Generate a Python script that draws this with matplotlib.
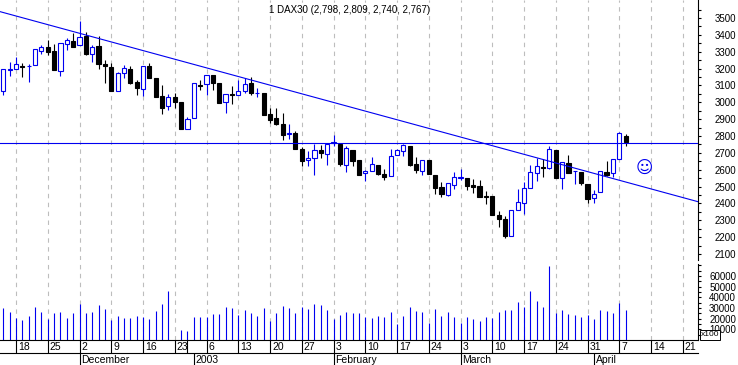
import matplotlib
matplotlib.use("Agg")
import matplotlib.pyplot as plt

plt.rcParams['font.family'] = ['Liberation Sans', 'DejaVu Sans']

# daily candles
opens = [3069,3193,3200,3215,3213,3219,3306,3328,3304,3188,3348,3364,3338,3393,3285,3334,3227,3209,3069,3172,
         3198,3120,3077,3215,3142,3037,2976,3029,3002,2843,2905,3101,3107,3162,3114,3004,3047,3045,3069,3112,
         3053,3055,2930,2904,2869,2809,2815,2722,2655,2671,2716,2696,2756,2752,2629,2716,2657,2578,2594,2627,
         2572,2564,2689,2712,2738,2631,2594,2657,2566,2497,2451,2511,2548,2550,2509,2503,2441,2444,2329,2305,
         2209,2359,2400,2493,2582,2614,2612,2715,2549,2638,2590,2584,2515,2430,2466,2584,2578,2662,2798]
highs = [3196,3237,3267,3231,3225,3314,3338,3370,3344,3350,3383,3413,3482,3415,3338,3393,3249,3231,3178,3219,
         3215,3132,3217,3231,3142,3103,3047,3053,3002,2911,3112,3132,3160,3162,3114,3047,3097,3132,3146,3148,
         3082,3055,2969,2964,2934,2869,2829,2734,2710,2752,2746,2752,2803,2752,2738,2716,2657,2598,2673,2627,
         2604,2720,2720,2752,2738,2673,2655,2657,2566,2526,2518,2586,2607,2550,2544,2538,2475,2444,2355,2325,
         2359,2486,2529,2628,2671,2662,2741,2715,2644,2687,2592,2584,2515,2480,2590,2652,2662,2822,2809]
lows = [3043,3156,3196,3150,3122,3219,3287,3281,3194,3156,3310,3330,3338,3281,3239,3198,3114,3069,3069,3144,
        3109,3043,3037,3146,3033,2931,2956,2966,2843,2843,2905,3073,3043,3073,2998,2938,2990,3045,3057,3043,
        3033,2926,2878,2865,2776,2782,2724,2621,2621,2570,2669,2627,2742,2621,2586,2621,2570,2532,2594,2568,
        2538,2564,2689,2681,2621,2580,2568,2576,2455,2437,2443,2485,2538,2479,2461,2439,2396,2333,2262,2195,
        2209,2359,2337,2493,2535,2555,2604,2553,2488,2582,2515,2509,2404,2404,2466,2563,2555,2662,2740]
closes = [3196,3196,3225,3211,3217,3314,3326,3298,3194,3350,3368,3330,3385,3287,3326,3227,3217,3069,3172,3202,
          3116,3087,3213,3146,3033,2968,3029,3004,2843,2899,3112,3097,3160,3116,2998,3047,3043,3065,3107,3056,
          3058,2926,2894,2871,2805,2815,2724,2653,2671,2714,2700,2752,2764,2635,2726,2653,2570,2590,2631,2574,
          2558,2679,2714,2744,2627,2600,2655,2576,2493,2455,2518,2554,2554,2505,2499,2439,2437,2333,2309,2207,
          2359,2406,2489,2588,2620,2612,2721,2553,2644,2582,2592,2521,2428,2454,2590,2567,2662,2816,2767]
volumes = [30300,26600,20900,19100,22800,31300,26600,20000,25600,26600,20900,25600,34100,25600,26600,33100,29400,19100,22800,20900,
           20900,22800,21900,20000,27500,34100,46300,0,9700,8800,21900,21900,21900,24700,24700,31300,30300,23800,28400,25600,
           22800,30300,18100,25600,32200,30300,25600,31300,29400,34100,33100,28400,20000,23800,26600,25600,25600,21900,20900,22800,
           21900,26600,15300,22800,31300,27500,26600,16300,29400,22800,26600,21900,16300,21900,20000,18100,21900,20900,26600,28400,
           28400,35900,31300,46300,36900,31300,69700,25600,28400,24700,23800,21900,23800,20000,28400,27500,25600,35000,28400]

week_pos = [2,7,12,17,22,27,32,37,42,47,52,57,62,67,72,77,82,87,92,97,102,107]
week_labels = ['18','25','2','9','16','23','6','13','20','27','3','10','17','24','3','10','17','24','31','7','14','21']
month_pos = [12,30,52,72,93]
month_labels = ['December','2003','February','March','April']
price_ticks = list(range(2100, 3600, 100))
price_minor = list(range(2100, 3600, 50))
vol_ticks = [10000,20000,30000,40000,50000,60000]
vol_minor = list(range(5000, 75000, 5000))

trend_x = [-0.52, 109.4]
trend_y = [3538, 2410]
resistance = 2756
title = '1 DAX30 (2,798, 2,809, 2,740, 2,767)'

BLUE = '#0000f0'
xlim = (-0.52, 109.4)

fig = plt.figure(figsize=(7.38, 3.65), dpi=100)
W, H = 738.0, 365.0
ax = fig.add_axes([0, (H-260)/H, 698/W, 260/H])
ax_vol = fig.add_axes([0, (H-340)/H, 698/W, 76/H])
ax_month = fig.add_axes([0, 0, 698/W, 12/H])

# candles
for i in range(len(opens)):
    up = closes[i] >= opens[i]
    col = BLUE if up else 'black'
    ax.vlines(i, lows[i], highs[i], color=col, lw=0.8, zorder=3)
    bottom = min(opens[i], closes[i])
    height = abs(closes[i] - opens[i])
    ax.bar(i, height, bottom=bottom, width=0.65, facecolor='white' if up else 'black',
           edgecolor=col, linewidth=0.8, zorder=4)

ax.plot(trend_x, trend_y, color=BLUE, lw=0.8, zorder=5)
ax.axhline(resistance, color=BLUE, lw=0.8, zorder=5)
ax.text(100.9, 2610, '\u263a', color=BLUE, fontsize=12, ha='center', va='center',
        family=['DejaVu Sans'])
ax.text(0.501, 0.9615, title, transform=ax.transAxes, fontsize=7, ha='center', va='center')

ax.set_xlim(xlim)
ax.set_ylim(2064, 3607)
ax.set_xticks(week_pos)
ax.tick_params(axis='x', length=0, labelbottom=False)
ax.grid(axis='x', color='#bdbdbd', lw=0.8, ls=(0, (4, 4)))
ax.set_axisbelow(True)

# volume
ax_vol.vlines(range(len(volumes)), 0, volumes, color=BLUE, lw=0.8, zorder=3)
ax_vol.set_xlim(xlim)
ax_vol.set_ylim(0, 71300)
ax_vol.set_xticks(week_pos)
ax_vol.set_xticks([29], minor=True)
ax_vol.set_xticklabels([])
ax_vol.tick_params(axis='x', which='both', length=9.4, width=0.8, direction='out')
ax_vol.grid(axis='x', color='#bdbdbd', lw=0.8, ls=(0, (4, 4)))
ax_vol.set_axisbelow(True)
for p, s in zip(week_pos, week_labels):
    ax_vol.annotate(s, xy=(p, 0), xycoords='data', xytext=(2, -2), textcoords='offset pixels',
                    fontsize=7.5, ha='left', va='top', annotation_clip=False)

# right hand scales
for a, major, minor, labels in [(ax, price_ticks, price_minor, price_ticks), (ax_vol, vol_ticks, vol_minor, vol_ticks)]:
    a.yaxis.tick_right()
    a.set_yticks(major)
    a.set_yticks(minor, minor=True)
    a.set_yticklabels([str(v) for v in labels], fontsize=7, ha='right')
    a.tick_params(axis='y', which='both', length=2.4, width=0.8, pad=25)
    for side in ['left', 'top']:
        a.spines[side].set_visible(False)
    a.spines['right'].set_linewidth(0.8)
ax.spines['bottom'].set_visible(False)
ax_vol.spines['bottom'].set_linewidth(0.8)

# month row
ax_month.set_xlim(xlim)
ax_month.set_ylim(0, 1)
ax_month.set_yticks([])
ax_month.set_xticks(month_pos)
ax_month.set_xticklabels([])
ax_month.tick_params(axis='x', length=8.6, width=0.8, direction='in', bottom=True)
for side in ['left', 'right', 'bottom']:
    ax_month.spines[side].set_visible(False)
ax_month.spines['top'].set_linewidth(0.8)
for p, s in zip(month_pos, month_labels):
    ax_month.text(p + 0.3, 0.2, s, fontsize=7.5, ha='left', va='baseline')

fig.text(710/W, 1 - 335/H, 'x100', fontsize=6, ha='center', va='center',
         bbox=dict(facecolor='white', edgecolor='black', lw=0.7, pad=0.8))

fig.savefig('out.png', dpi=100)
